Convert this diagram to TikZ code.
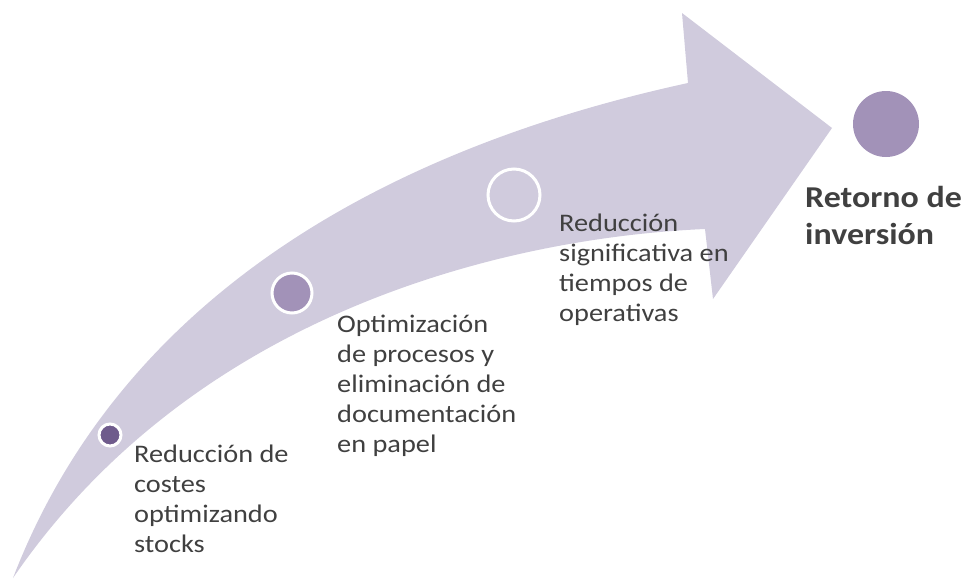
\documentclass[tikz,border=0pt]{standalone}
\usepackage{fontspec}
\setmainfont{Carlito}[FakeStretch=1.12]
\definecolor{arrowfill}{RGB}{208,203,221}
\definecolor{dotdark}{RGB}{111,91,140}
\definecolor{dotmid}{RGB}{162,146,184}
\definecolor{textgrey}{RGB}{64,64,64}

\begin{document}
\begin{tikzpicture}[x=1pt, y=-1pt,
    dot/.style={circle, draw=white, line width=3pt, inner sep=0pt},
    stagetext/.style={anchor=north west, inner sep=0pt, align=left, text=textgrey,
      font=\fontsize{25.3}{30}\selectfont},
    goaltext/.style={stagetext, font=\fontsize{30.3}{37}\selectfont\bfseries}]
      \useasboundingbox (0,0) rectangle (967,579);

      \fill[arrowfill] (13,578) .. controls (120,300) and (380,150) .. (688,83)
        -- (682,13) -- (832,128) -- (713,299) -- (705,229)
        .. controls (520,237) and (200,305) .. (13,578) -- cycle;

      \node[dot, fill=dotdark, minimum size=22pt] (d1) at (110,435) {};
      \node[dot, fill=dotmid, minimum size=40pt] (d2) at (292,293) {};
      \node[dot, minimum size=52pt] (d3) at (514,195) {};
      \node[circle, fill=dotmid, inner sep=0pt, minimum size=66pt] (d4) at (886,124) {};

      \node[stagetext] (t1) at (134,441) {\strut Reducción de\\costes\\optimizando\\stocks};
      \node[stagetext] (t2) at (337,311) {\strut Optimización\\de procesos y\\eliminación de\\documentación\\en papel};
      \node[stagetext] (t3) at (559,210) {\strut Reducción\\significativa en\\tiempos de\\operativas};
      \node[goaltext] (t4) at (805,181) {\strut Retorno de\\inversión};
    \end{tikzpicture}
\end{document}
